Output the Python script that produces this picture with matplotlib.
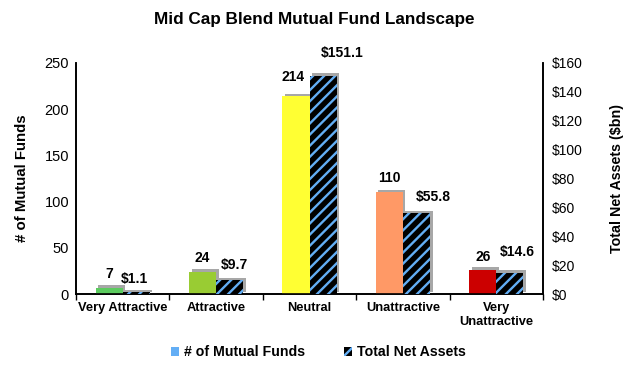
import matplotlib
matplotlib.use("Agg")
import matplotlib.pyplot as plt
import matplotlib.patheffects as pe
from matplotlib.patches import Patch
import numpy as np

plt.rcParams.update({
    "font.family": ["Liberation Sans", "DejaVu Sans"],
    "hatch.linewidth": 1.7,
})

categories = ["Very Attractive", "Attractive", "Neutral", "Unattractive", "Very\nUnattractive"]
fund_counts = [7, 24, 214, 110, 26]
net_assets = [1.1, 9.7, 151.1, 55.8, 14.6]
count_labels = ["7", "24", "214", "110", "26"]
asset_labels = ["$1.1", "$9.7", "$151.1", "$55.8", "$14.6"]

C_BARS = ["#5CCB5F", "#99CC33", "#FFFF33", "#FF9966", "#CC0000"]
C_BLUE = "#63AEF5"
W = 0.29

shadow_only = [pe.SimplePatchShadow(offset=(1.8, 1.8), shadow_rgbFace="#8a8a8a", alpha=0.75)]

fig = plt.figure(figsize=(6.3, 3.68), dpi=100)
ax = fig.add_axes([0.1206, 0.201, 0.7414, 0.628])
ax2 = ax.twinx()

x = np.arange(len(categories))
# drop shadows (grey copies, only the shadow is drawn)
s1 = ax.bar(x - W / 2, fund_counts, W, color="grey", zorder=2)
s2 = ax2.bar(x + W / 2, net_assets, W, color="grey", zorder=2)
for b in list(s1) + list(s2):
    b.set_path_effects(shadow_only)

ax.bar(x - W / 2, fund_counts, W, color=C_BARS, zorder=3)
ax2.bar(x + W / 2, net_assets, W, color="black", edgecolor=C_BLUE,
        linewidth=0, hatch="///", zorder=3)

# label offsets in points (dx, dy), text centred
off1 = [(0, 10), (0, 10), (-2, 14), (0, 10), (0, 9.5)]
off2 = [(-1, 9.5), (3.6, 11), (14, 16.5), (12, 11.5), (5, 15)]
for i in range(len(categories)):
    ax.annotate(count_labels[i], (x[i] - W / 2, fund_counts[i]), xytext=off1[i],
                textcoords="offset points", ha="center", va="center",
                fontsize=10, fontweight="bold")
    ax2.annotate(asset_labels[i], (x[i] + W / 2, net_assets[i]), xytext=off2[i],
                 textcoords="offset points", ha="center", va="center",
                 fontsize=10, fontweight="bold")

ax.set_xlim(-0.5, len(categories) - 0.5)
ax.set_ylim(0, 250)
ax.set_yticks(range(0, 251, 50))
ax2.set_ylim(0, 160)
ax2.set_yticks(range(0, 161, 20))
ax2.set_yticklabels([f"${v}" for v in range(0, 161, 20)])

ax.set_xticks(x)
ax.set_xticklabels(categories, fontsize=9.3, fontweight="bold")
ax.set_xticks(np.arange(-0.5, len(categories), 1), minor=True)
ax.tick_params(axis="x", which="major", length=0, pad=6)
ax.tick_params(axis="x", which="minor", length=4, width=1)
ax.tick_params(axis="y", length=0, labelsize=10.5, pad=5)
ax2.tick_params(axis="y", length=0, labelsize=10, pad=6)

for a in (ax, ax2):
    a.spines["top"].set_visible(False)
    for s in ("left", "right", "bottom"):
        a.spines[s].set_linewidth(1.2)

ax.set_ylabel("# of Mutual Funds", fontsize=10.8, fontweight="bold", labelpad=11)
ax2.set_ylabel("Total Net Assets ($bn)", fontsize=10.3, fontweight="bold", labelpad=20)

fig.text(0.499, 0.946, "Mid Cap Blend Mutual Fund Landscape", fontsize=12.3,
         fontweight="bold", ha="center", va="center")

handles = [Patch(facecolor=C_BLUE, label="# of Mutual Funds"),
           Patch(facecolor="black", edgecolor=C_BLUE, linewidth=0, hatch="///",
                 label="Total Net Assets")]
fig.legend(handles=handles, loc="center", bbox_to_anchor=(0.505, 0.043), ncol=2,
           frameon=False, handlelength=0.6, handleheight=0.6, handletextpad=0.3,
           columnspacing=2.75, prop={"weight": "bold", "size": 10.2})

fig.savefig("out.png", dpi=100)
